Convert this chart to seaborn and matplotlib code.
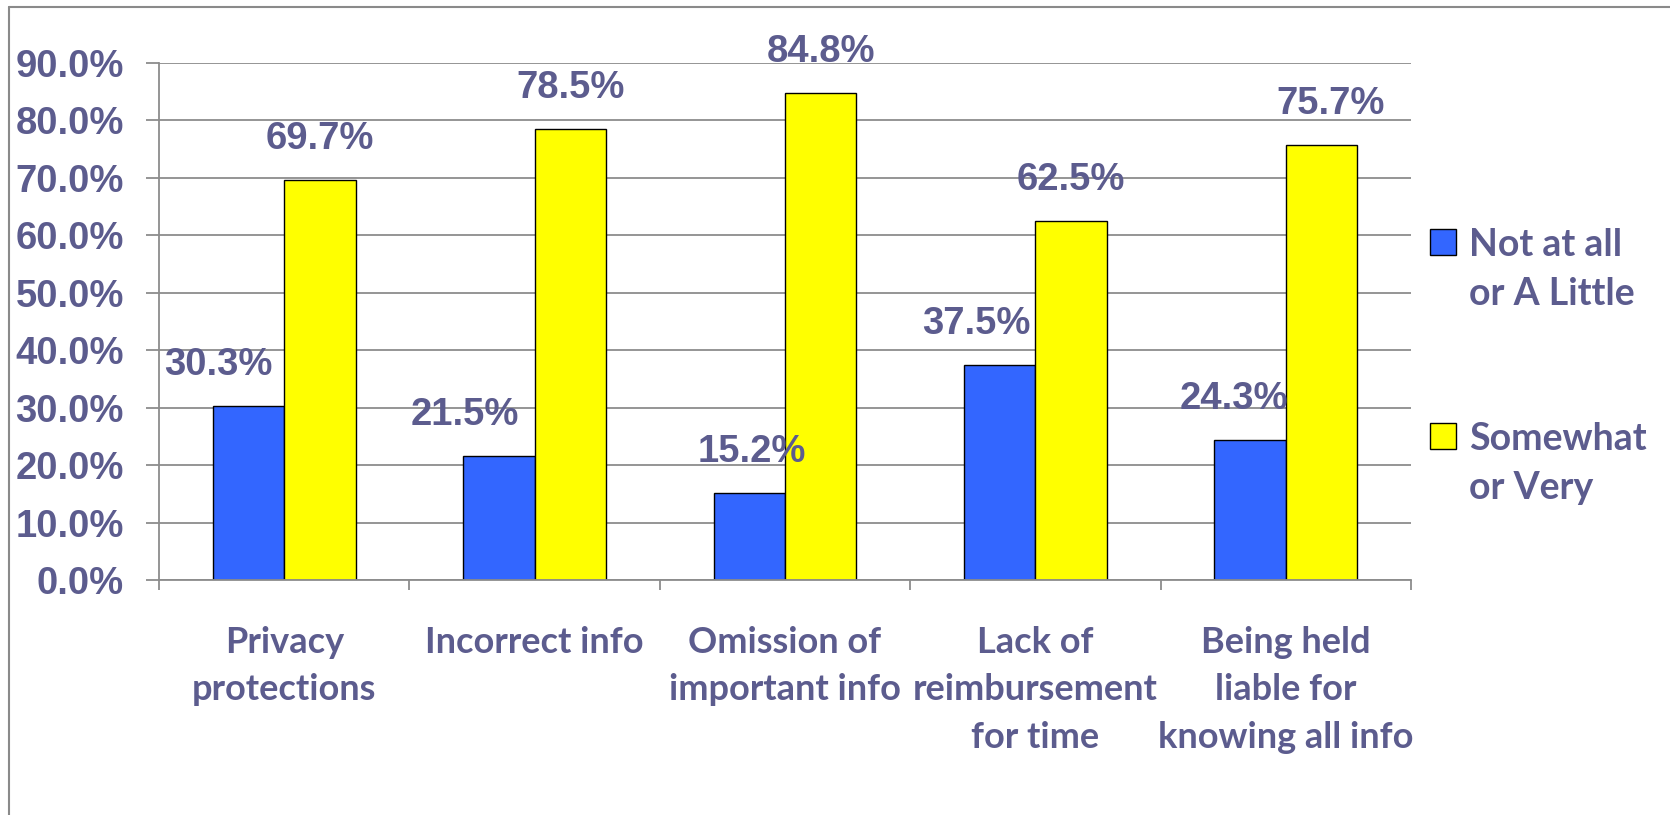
import numpy as np
import pandas as pd
import matplotlib
matplotlib.use("Agg")
import matplotlib.pyplot as plt
import seaborn as sns
from matplotlib.lines import Line2D
from matplotlib.patches import Rectangle

# ---------------- data ----------------
categories = ["Privacy\nprotections", "Incorrect info", "Omission of\nimportant info",
              "Lack of\nreimbursement\nfor time", "Being held\nliable for\nknowing all info"]
series_names = ["Not at all\nor A Little", "Somewhat\nor Very"]
not_at_all = [30.3, 21.5, 15.2, 37.5, 24.3]
somewhat = [69.7, 78.5, 84.8, 62.5, 75.7]
y_ticks = [0, 10, 20, 30, 40, 50, 60, 70, 80, 90]

# ---------------- styles ----------------
W, H = 1670, 815
BLUE = "#3366ff"
YELLOW = "#ffff00"
GRID = "#8c8c8c"
TXT = "#5c5c8e"
NUM_FONT = "Liberation Sans"
LBL_FONT = "Lato"

# label offsets (pixels) relative to bar centre, per series
label_dx = [[-30, -34, 2, -23, -16], [0, 0, 0, 0, 9]]
label_dy = 41

df = pd.DataFrame({
    "category": categories * 2,
    "series": [series_names[0]] * 5 + [series_names[1]] * 5,
    "value": not_at_all + somewhat,
})

sns.set_theme(style="white")
plt.rcParams["font.family"] = [LBL_FONT, "DejaVu Sans"]

fig = plt.figure(figsize=(W / 100, H / 100), dpi=100)
fig.patch.set_facecolor("white")
x0, x1, y_base, y_top = 159, 1411, 580, 63
ax = fig.add_axes([x0 / W, (H - y_base) / H, (x1 - x0) / W, (y_base - y_top) / H])

sns.barplot(data=df, x="category", y="value", hue="series", order=categories,
            hue_order=series_names, palette=[BLUE, YELLOW], saturation=1,
            width=0.57, edgecolor="black", linewidth=1.0, ax=ax, legend=False,
            errorbar=None)

ax.set_xlim(-0.5, 4.5)
ax.set_ylim(0, 90)
ax.set_xlabel("")
ax.set_ylabel("")
ax.set_facecolor("white")
ax.set_axisbelow(True)
ax.yaxis.grid(True, color=GRID, lw=1.3)
ax.xaxis.grid(False)
for s in ["top", "right"]:
    ax.spines[s].set_visible(False)
for s in ["left", "bottom"]:
    ax.spines[s].set_color(GRID)
    ax.spines[s].set_linewidth(1.3)

ax.set_yticks(y_ticks)
ax.set_yticklabels([f"{v:.1f}%" for v in y_ticks], fontfamily=NUM_FONT,
                   fontweight="bold", fontsize=27.5, color=TXT)
ax.tick_params(axis="y", length=9.4, width=1.3, color=GRID, pad=16, direction="out", left=True)

ax.set_xticks(range(len(categories)))
ax.set_xticklabels(categories, fontfamily=LBL_FONT, fontweight="bold", fontsize=26,
                   color=TXT, linespacing=1.54)
ax.tick_params(axis="x", which="major", length=0, pad=33)
ax.set_xticks(np.arange(-0.5, len(categories), 1.0), minor=True)
ax.tick_params(axis="x", which="minor", length=7.2, width=1.3, color=GRID,
               direction="out", bottom=True)

# data labels
for cont, dxs in zip(ax.containers, label_dx):
    for bar, dx in zip(cont, dxs):
        h = bar.get_height()
        ax.annotate(f"{h:.1f}%", (bar.get_x() + bar.get_width() / 2, h),
                    xytext=(dx * 0.72, label_dy * 0.72), textcoords="offset points",
                    ha="center", va="center", fontfamily=NUM_FONT, fontweight="bold",
                    fontsize=27.5, color=TXT, annotation_clip=False)

# legend (manual, to match layout)
leg_y = [229, 423]
for name, col, yy in zip(series_names, [BLUE, YELLOW], leg_y):
    fig.add_artist(Rectangle((1430 / W, (H - yy - 26) / H), 26 / W, 26 / H,
                             transform=fig.transFigure, facecolor=col,
                             edgecolor="black", lw=1.0))
    fig.text(1469 / W, (H - yy + 1) / H, name, ha="left", va="top",
             fontfamily=LBL_FONT, fontweight="bold", fontsize=27, color=TXT,
             linespacing=1.53)

# outer frame lines (top and left only visible)
fig.add_artist(Line2D([9 / W, 1], [(H - 7) / H] * 2, transform=fig.transFigure,
                      color="#8a8a8a", lw=1.5))
fig.add_artist(Line2D([9 / W] * 2, [0, (H - 7) / H], transform=fig.transFigure,
                      color="#8a8a8a", lw=1.5))

fig.savefig("out.png", dpi=100, facecolor="white")
